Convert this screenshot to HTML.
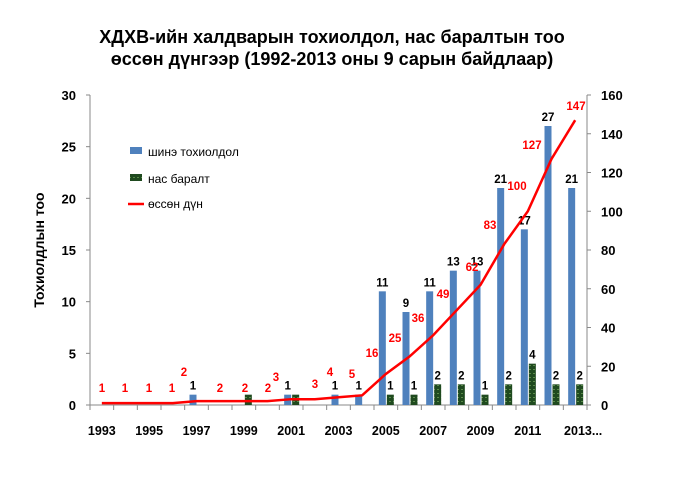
<!DOCTYPE html>
<html><head><meta charset="utf-8"><style>
body{margin:0;background:#fff;}
svg text{font-family:"Liberation Sans",sans-serif;font-weight:bold;}
</style></head><body>
<svg id="s" width="678" height="486" xmlns="http://www.w3.org/2000/svg">
<defs><pattern id="g" width="4" height="4" patternUnits="userSpaceOnUse"><rect width="4" height="4" fill="#1f4a1f"/><rect x="1" y="1" width="2" height="1" fill="#5a8a4a"/></pattern></defs>
<text x="332" y="43" font-size="18" text-anchor="middle">ХДХВ-ийн халдварын тохиолдол, нас баралтын тоо</text>
<text x="332" y="65" font-size="18" text-anchor="middle">өссөн дүнгээр (1992-2013 оны 9 сарын байдлаар)</text>
<text transform="translate(44,250) rotate(-90)" font-size="14" text-anchor="middle">Тохиолдлын тоо</text>
<rect x="130" y="147" width="12" height="7" fill="#4f81bd"/><text x="148" y="156" font-size="12" style="font-weight:normal">шинэ тохиолдол</text>
<rect x="130" y="174" width="12" height="7" fill="url(#g)"/><text x="148" y="183" font-size="12" style="font-weight:normal">нас баралт</text>
<line x1="128" y1="204" x2="144" y2="204" stroke="red" stroke-width="2.5"/><text x="148" y="208" font-size="12" style="font-weight:normal">өссөн дүн</text>
<g id="c"></g>
</svg>
<script>
var L=90,R=587,B=405,T=95,n=21,w=(R-L)/n;
var nw=[0,0,0,0,1,0,0,0,1,0,1,1,11,9,11,13,13,21,17,27,21];
var dd=[0,0,0,0,0,0,1,0,1,0,0,0,1,1,2,2,1,2,4,2,2];
var cu=[1,1,1,1,2,2,2,2,3,3,4,5,16,25,36,49,62,83,100,127,147];
var h='';
h+='<line x1="'+L+'" y1="'+T+'" x2="'+L+'" y2="'+B+'" stroke="#888"/>';
h+='<line x1="'+R+'" y1="'+T+'" x2="'+R+'" y2="'+B+'" stroke="#888"/>';
h+='<line x1="'+L+'" y1="'+B+'" x2="'+R+'" y2="'+B+'" stroke="#888"/>';
for(var i=0;i<=6;i++){var y=B-i*(B-T)/6;h+='<line x1="'+(L-4)+'" y1="'+y+'" x2="'+L+'" y2="'+y+'" stroke="#888"/><text x="'+(L-14)+'" y="'+(y+5)+'" font-size="13" text-anchor="end">'+(i*5)+'</text>';}
for(var i=0;i<=8;i++){var y=B-i*(B-T)/8;h+='<line x1="'+R+'" y1="'+y+'" x2="'+(R+4)+'" y2="'+y+'" stroke="#888"/><text x="'+(R+14)+'" y="'+(y+5)+'" font-size="13">'+(i*20)+'</text>';}
for(var i=0;i<=n;i++){var x=L+i*w;h+='<line x1="'+x+'" y1="'+B+'" x2="'+x+'" y2="'+(B+5)+'" stroke="#888"/>';}
var pts=[];
for(var i=0;i<n;i++){var c=L+(i+0.5)*w;
 if(i%2==0)h+='<text x="'+(i==20?c+8:c)+'" y="'+(B+30)+'" font-size="12.5" text-anchor="middle">'+(i==20?'2013...':1993+i)+'</text>';
 if(nw[i]){var hh=nw[i]*(B-T)/30;h+='<rect x="'+(c-7)+'" y="'+(B-hh)+'" width="7" height="'+hh+'" fill="#4f81bd"/><text x="'+(c-3.5)+'" y="'+(B-hh-5)+'" font-size="11.5" text-anchor="middle">'+nw[i]+'</text>';}
 if(dd[i]){var hh=dd[i]*(B-T)/30;h+='<rect x="'+(c+1)+'" y="'+(B-hh)+'" width="7" height="'+hh+'" fill="url(#g)"/>';if(i>8)h+='<text x="'+(c+4.5)+'" y="'+(B-hh-5)+'" font-size="11.5" text-anchor="middle">'+dd[i]+'</text>';}
 var y=B-cu[i]*(B-T)/160;pts.push(c+','+y);
}
h+='<polyline points="'+pts.join(' ')+'" fill="none" stroke="red" stroke-width="2.5"/>';
var lp=[[102,392],[125,392],[149,392],[172,392],[184,376],[220,392],[245,392],[268,392],[276,381],[315,388],[330,376],[352,378],[372,357],[395,342],[418,322],[443,298],[472,271],[490,229],[517,190],[532,149],[576,110]];
for(var i=0;i<n;i++)h+='<text x="'+lp[i][0]+'" y="'+lp[i][1]+'" font-size="11.5" fill="red" text-anchor="middle">'+cu[i]+'</text>';
document.getElementById('c').innerHTML=h;
</script>
</body></html>
